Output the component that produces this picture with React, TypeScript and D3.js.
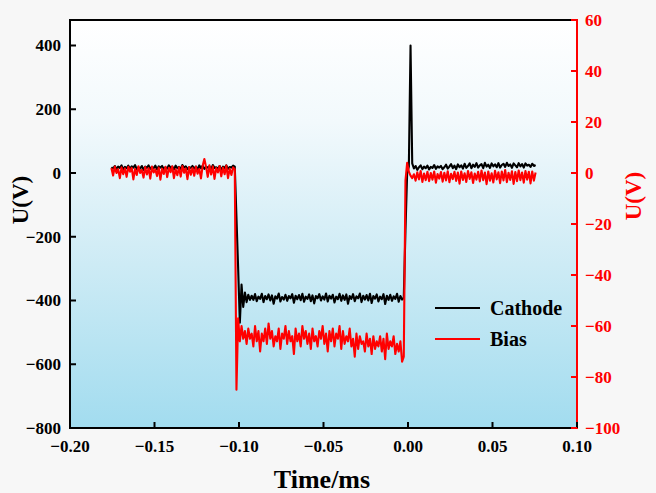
import React from "react";
import * as d3 from "d3";

// Sampling of the scope traces (ms)
const T0 = -0.1755;
const DT = 0.001;

// Cathode voltage (V), left axis
const cathodeLeft = [
  18, 14, 22, 12, 20, 16, 24, 11, 19, 15,
  23, 13, 21, 17, 25, 12, 18, 14, 22, 10,
  20, 16, 24, 13, 19, 15, 23, 11, 21, 17,
  22, 12, 18, 14, 24, 16, 20, 11, 23, 15,
  19, 13, 25, 17, 21, 12, 18, 16, 22, 14,
  20, 11, 24, 15, 23, 13, 19, 17, 21, 12,
  25, 16, 18, 14, 22, 10, 20, 15, 24, 13,
  19, 17, 23, 20,
];
const cathodeFall = [-140, -300, -470, -350, -420, -375, -405, -382, -398];
const cathodeMid = [
  -385, -398, -380, -402, -388, -395, -379, -405, -386, -396,
  -381, -400, -384, -410, -387, -394, -378, -403, -389, -397,
  -382, -401, -386, -393, -380, -407, -385, -396, -383, -399,
  -379, -404, -388, -395, -381, -402, -384, -409, -386, -393,
  -380, -400, -387, -397, -378, -403, -385, -394, -382, -406,
  -388, -396, -379, -401, -384, -398, -381, -410, -386, -395,
  -380, -402, -387, -393, -378, -405, -385, -397, -383, -400,
  -379, -408, -386, -394, -381, -403, -388, -396, -380, -411,
  -385, -398, -382, -401, -387, -395, -379, -404, -386, -397,
  -392,
];
const cathodeRise = [-180, 0, 20, 400, 30];
const cathodeRight = [
  14, 22, 10, 18, 24, 12, 20, 15, 23, 11,
  19, 16, 25, 13, 21, 17, 22, 12, 18, 26,
  14, 20, 28, 15, 23, 12, 27, 18, 24, 14,
  29, 16, 22, 30, 15, 26, 19, 31, 17, 24,
  28, 15, 32, 20, 26, 16, 30, 21, 27, 18,
  31, 17, 25, 29, 19, 32, 22, 27, 16, 30,
  24, 18, 31, 21, 28, 17, 30, 23, 26, 19,
  29, 22, 25,
];

// Bias voltage (V), right axis
const biasLeft = [
  2, -1, 2.5, 0, 1.5, -2, 2.2, -0.5, 1.8, -1.5,
  2.4, 0.5, 2, -2.5, 1.6, -0.8, 2.6, 0, 1.2, -1.8,
  2.3, -0.6, 1.9, -2.2, 2.5, 0.2, 1.4, -1.2, 2.1, -2.6,
  1.7, -0.4, 2.4, -1.6, 2, 0.3, 2.6, -2, 1.5, -0.9,
  2.2, -1.4, 2.7, 0.1, 1.8, -2.4, 2.3, -0.7, 2, -1.1,
  2.5, -0.3, 1.6, -2.1, 2.8, 5.5, 2.4, -1.5, 3, -0.6,
  2.6, -2.3, 1.9, 0.2, 2.7, -1.3, 2.1, -0.5, 2.9, -2,
  1.7, -0.8, 2.2, 1.5,
];
const biasFall = [-85, -57, -66, -60, -65];
const biasMid = [
  -62, -67, -61, -65, -63, -68, -60, -66, -62, -70,
  -63, -66, -61, -67, -59, -65, -62, -68, -64, -66,
  -61, -69, -63, -65, -60, -67, -62, -66, -64, -71,
  -61, -66, -63, -68, -60, -65, -62, -67, -63, -69,
  -61, -66, -64, -68, -62, -65, -60, -67, -63, -70,
  -62, -66, -61, -68, -63, -65, -60, -69, -62, -67,
  -64, -66, -61, -68, -65, -72, -63, -69, -64, -67,
  -66, -70, -63, -68, -65, -71, -64, -69, -66, -68,
  -64, -70, -65, -73, -63, -69, -66, -68, -64, -71,
  -67, -70, -66, -74, -72,
];
const biasRise = [-3, 4, 0.5, -1, -2];
const biasRight = [
  -0.5, -3, 0.3, -2.5, 0.8, -3.5, -0.2, -2.8, 0.5, -3.2,
  0, -2.6, 0.6, -3.8, -0.4, -2.2, 0.4, -3.4, 0.1, -2.9,
  0.7, -3.6, -0.3, -2.4, 0.5, -3.1, 0.2, -4.2, 0.6, -2.7,
  -0.1, -3.5, 0.8, -2.3, 0.3, -3.9, -0.2, -2.6, 0.5, -3.3,
  1, -2.8, 0.2, -4.4, 0.6, -3, -0.1, -3.7, 0.9, -2.5,
  0.3, -4, 0.6, -2.9, 1.2, -3.6, 0.1, -2.7, 0.7, -4.3,
  0.4, -3.2, 1, -2.8, 0.2, -3.8, 0.8, -2.6, 0.5, -4.1,
  0.6, -3, 0.2,
];

const cathode = [...cathodeLeft, ...cathodeFall, ...cathodeMid, ...cathodeRise, ...cathodeRight];
const bias = [...biasLeft, ...biasFall, ...biasMid, ...biasRise, ...biasRight];

const xTicks = [-0.2, -0.15, -0.1, -0.05, 0, 0.05, 0.1];
const yLeftTicks = [-800, -600, -400, -200, 0, 200, 400];
const yRightTicks = [-100, -80, -60, -40, -20, 0, 20, 40, 60];
const seriesNames = ["Cathode", "Bias"];

const W = 656;
const H = 493;
const M = { left: 70, right: 577, top: 20, bottom: 428 };
const FONT = "'Times New Roman', 'Liberation Serif', serif";

export default function App() {
  const x = d3.scaleLinear().domain([-0.2, 0.1]).range([M.left, M.right]);
  const yL = d3.scaleLinear().domain([-800, 480]).range([M.bottom, M.top]);
  const yR = d3.scaleLinear().domain([-100, 60]).range([M.bottom, M.top]);
  const fmtX = d3.format(".2f");

  const cathodePath = d3
    .line<number>()
    .x((_, i) => x(T0 + DT * i))
    .y((d) => yL(d))(cathode) as string;
  const biasPath = d3
    .line<number>()
    .x((_, i) => x(T0 + DT * i))
    .y((d) => yR(d))(bias) as string;

  const tickLen = 6;

  return (
    <svg
      width={W}
      height={H}
      style={{ position: "absolute", left: 0, top: 0 }}
      fontFamily={FONT}
    >
      <defs>
        <linearGradient id="bg" x1="0" y1="0" x2="0" y2="1">
          <stop offset="0" stopColor="#ffffff" />
          <stop offset="0.25" stopColor="#f2f9fc" />
          <stop offset="0.6" stopColor="#cdebf5" />
          <stop offset="1" stopColor="#a2dcef" />
        </linearGradient>
        <clipPath id="plot">
          <rect x={M.left} y={M.top} width={M.right - M.left} height={M.bottom - M.top} />
        </clipPath>
      </defs>
      <rect x={0} y={0} width={W} height={H} fill="#f7f7f7" />
      <rect
        x={M.left}
        y={M.top}
        width={M.right - M.left}
        height={M.bottom - M.top}
        fill="url(#bg)"
      />

      <g clipPath="url(#plot)">
        <path d={cathodePath} fill="none" stroke="#000" strokeWidth={2.1} strokeLinejoin="round" />
        <path d={biasPath} fill="none" stroke="#ff0000" strokeWidth={2.1} strokeLinejoin="round" />
      </g>

      {/* frame */}
      <line x1={M.left} x2={M.right} y1={M.top} y2={M.top} stroke="#000" strokeWidth={2} />
      <line x1={M.left} x2={M.right} y1={M.bottom} y2={M.bottom} stroke="#000" strokeWidth={2} />
      <line x1={M.left} x2={M.left} y1={M.top - 1} y2={M.bottom + 1} stroke="#000" strokeWidth={2} />
      <line x1={M.right} x2={M.right} y1={M.top - 1} y2={M.bottom + 1} stroke="#ff0000" strokeWidth={2} />

      {/* x ticks */}
      {xTicks.map((t) => (
        <g key={"x" + t}>
          <line x1={x(t)} x2={x(t)} y1={M.bottom} y2={M.bottom - tickLen} stroke="#000" strokeWidth={2} />
          <text
            x={x(t)}
            y={452}
            textAnchor="middle"
            fontSize={17}
            fontWeight="bold"
            fill="#000"
          >
            {fmtX(t)}
          </text>
        </g>
      ))}

      {/* left ticks */}
      {yLeftTicks.map((t) => (
        <g key={"yl" + t}>
          <line x1={M.left} x2={M.left + tickLen} y1={yL(t)} y2={yL(t)} stroke="#000" strokeWidth={2} />
          <text
            x={M.left - 9}
            y={yL(t)}
            dy="0.35em"
            textAnchor="end"
            fontSize={17}
            fontWeight="bold"
            fill="#000"
          >
            {d3.format("d")(t)}
          </text>
        </g>
      ))}

      {/* right ticks */}
      {yRightTicks.map((t) => (
        <g key={"yr" + t}>
          <line x1={M.right - tickLen} x2={M.right} y1={yR(t)} y2={yR(t)} stroke="#ff0000" strokeWidth={2} />
          <text
            x={M.right + 8}
            y={yR(t)}
            dy="0.35em"
            textAnchor="start"
            fontSize={17}
            fontWeight="bold"
            fill="#ff0000"
          >
            {d3.format("d")(t)}
          </text>
        </g>
      ))}

      {/* axis titles */}
      <text x={322} y={488} textAnchor="middle" fontSize={26} fontWeight="bold" fill="#000">
        Time/ms
      </text>
      <text
        transform="translate(28,200) rotate(-90)"
        textAnchor="middle"
        fontSize={23}
        fontWeight="bold"
        fill="#000"
      >
        U(V)
      </text>
      <text
        transform="translate(641,196) rotate(-90)"
        textAnchor="middle"
        fontSize={23}
        fontWeight="bold"
        fill="#ff0000"
      >
        U(V)
      </text>

      {/* legend */}
      {seriesNames.map((name, i) => {
        const yy = 308 + i * 31;
        const color = i === 0 ? "#000" : "#ff0000";
        return (
          <g key={name}>
            <line x1={435} x2={480} y1={yy} y2={yy} stroke={color} strokeWidth={2} />
            <text x={490} y={yy} dy="0.35em" fontSize={20} fontWeight="bold" fill="#000">
              {name}
            </text>
          </g>
        );
      })}
    </svg>
  );
}
